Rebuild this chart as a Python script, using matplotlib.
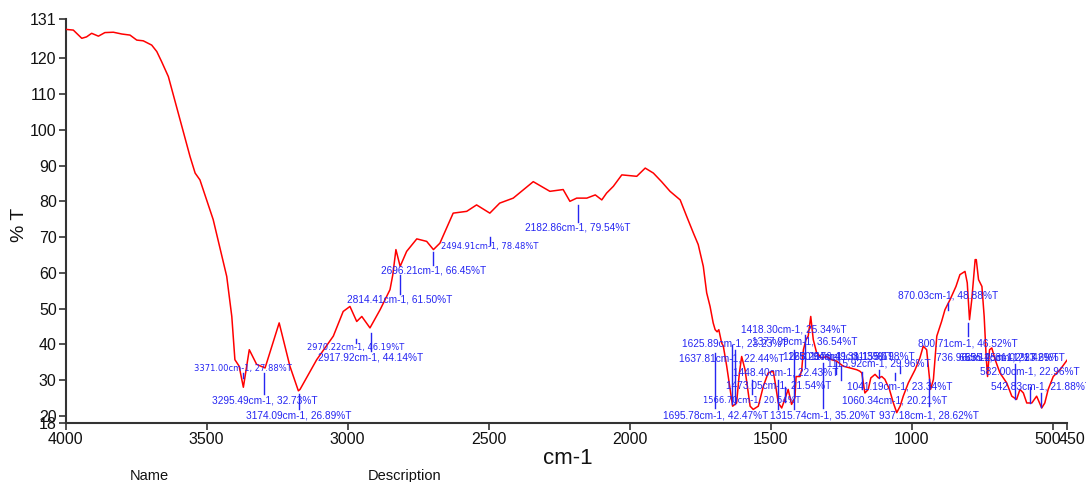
import matplotlib
matplotlib.use("Agg")
import matplotlib.pyplot as plt
from matplotlib.transforms import ScaledTranslation
from matplotlib import font_manager

# ---------------- data ----------------
wavenumber = [4000, 3973, 3943, 3926, 3908, 3884, 3861, 3831, 3801, 3772, 3748, 3725, 3695, 3677,
              3660, 3636, 3595, 3559, 3541, 3524, 3477, 3429, 3411, 3400, 3385, 3370, 3349, 3323,
              3293, 3243, 3205, 3175, 3169, 3110, 3051, 3016, 2992, 2968, 2950, 2921, 2885, 2850,
              2840, 2829, 2814, 2791, 2755, 2720, 2696, 2673, 2626, 2578, 2543, 2496, 2461, 2413,
              2342, 2283, 2236, 2212, 2188, 2152, 2122, 2099, 2082, 2058, 2028, 1975, 1945, 1916,
              1887, 1857, 1821, 1798, 1774, 1757, 1739, 1727, 1715, 1704, 1697, 1690, 1684, 1674,
              1668, 1656, 1644, 1635, 1621, 1611, 1603, 1591, 1583, 1573, 1562, 1544, 1526, 1509,
              1491, 1485, 1473, 1461, 1450, 1438, 1426, 1414, 1410, 1396, 1390, 1384, 1375, 1367,
              1358, 1349, 1337, 1319, 1301, 1284, 1266, 1243, 1219, 1195, 1184, 1177, 1166, 1154,
              1145, 1130, 1118, 1106, 1095, 1079, 1065, 1053, 1041, 1030, 1012, 988, 971, 959,
              947, 939, 933, 923, 911, 894, 882, 864, 843, 829, 811, 803, 795, 787, 775, 771,
              763, 751, 743, 736, 731, 724, 716, 704, 687, 663, 645, 628, 616, 604, 592, 574,
              557, 539, 528, 516, 498, 474, 448]
transmittance = [128.1, 127.9, 125.6, 126.0, 127.0, 126.2, 127.2, 127.3, 126.8, 126.5, 125.1, 124.9,
                 123.7, 121.9, 119.1, 114.9, 103.0, 92.5, 87.9, 86.0, 74.9, 59.0, 47.8, 35.7, 33.9,
                 28.0, 38.5, 34.4, 33.4, 46.0, 33.9, 27.0, 27.4, 35.7, 42.3, 49.2, 50.6, 46.4, 47.8,
                 44.6, 49.7, 55.3, 59.5, 66.5, 61.8, 66.0, 69.5, 68.8, 66.5, 68.3, 76.7, 77.2, 79.0,
                 76.7, 79.5, 80.9, 85.5, 82.8, 83.3, 80.0, 80.9, 80.9, 81.8, 80.4, 82.3, 84.2, 87.4,
                 87.0, 89.3, 87.9, 85.5, 82.8, 80.4, 75.8, 71.1, 67.9, 61.8, 54.4, 50.6, 46.0, 44.1,
                 43.5, 44.1, 40.4, 39.5, 33.9, 27.4, 22.7, 23.6, 32.0, 36.6, 32.9, 28.3, 22.7, 21.8,
                 22.7, 28.3, 32.0, 32.5, 29.7, 23.6, 22.2, 24.6, 27.4, 23.2, 25.1, 31.0, 31.0, 32.9,
                 38.5, 41.3, 42.3, 47.8, 41.3, 37.6, 36.2, 36.6, 35.7, 35.3, 33.9, 33.4, 32.9, 32.5,
                 32.0, 26.4, 27.4, 30.6, 31.6, 30.6, 31.0, 30.2, 27.4, 23.6, 20.9, 22.7, 25.5, 29.2,
                 32.9, 36.2, 39.5, 38.5, 32.0, 27.4, 30.2, 42.3, 46.4, 49.7, 52.5, 56.2, 59.5, 60.4,
                 57.2, 46.9, 52.5, 63.7, 63.7, 58.1, 56.2, 47.8, 36.6, 31.0, 38.5, 39.0, 35.7, 32.0,
                 29.2, 25.5, 24.6, 27.4, 26.4, 23.6, 23.6, 25.5, 22.2, 23.6, 27.4, 31.0, 32.9, 35.7]

# peak labels (wavenumber, %T as printed)
peak_wn = [3371.00, 3295.49, 3174.09, 2970.22, 2917.92, 2814.41, 2696.21, 2494.91, 2182.86,
           1695.78, 1637.81, 1625.89, 1566.70, 1473.05, 1448.40, 1418.30, 1377.99, 1315.74,
           1268.26, 1250.94, 1176.49, 1115.92, 1060.34, 1041.19, 937.18, 870.03, 800.71,
           736.96, 655.14, 635.25, 582.00, 542.83]
peak_T = [27.88, 32.73, 26.89, 46.19, 44.14, 61.50, 66.45, 78.48, 79.54,
          42.47, 22.44, 23.23, 20.64, 21.54, 22.43, 25.34, 36.54, 35.20,
          31.15, 31.35, 31.98, 29.96, 20.21, 23.34, 28.62, 48.88, 46.52,
          31.02, 21.42, 23.69, 22.96, 21.88]
# layout of the labels: text height (in %T units), marker line top / bottom, small font flag
label_y = [33.2, 24.3, 20.1, 39.1, 36.3, 52.5, 60.6, 67.3, 72.6,
           20.1, 36.0, 40.2, 24.3, 28.5, 32.1, 44.1, 40.8, 20.1,
           36.6, 36.6, 36.6, 34.6, 24.3, 28.2, 20.1, 53.6, 40.2,
           36.3, 36.3, 36.3, 32.4, 28.2]
line_top = [32.1, 32.1, 26.0, 41.6, 43.3, 59.5, 65.9, 70.1, 79.0,
            37.7, 39.9, 38.5, 30.0, 30.0, 28.0, 38.5, 42.7, 34.9,
            35.2, 34.0, 32.4, 32.7, 32.0, 34.0, 30.2, 51.7, 46.1,
            None, None, 34.4, 28.2, 26.5]
line_bot = [30.7, 26.0, 21.8, 40.5, 38.0, 54.2, 62.3, 67.9, 74.3,
            22.3, 23.2, 23.2, 26.0, 22.0, 24.0, 21.8, 33.8, 22.3,
            31.6, 30.0, 27.4, 30.7, 30.0, 32.0, 22.7, 49.7, 42.2,
            None, None, 24.6, 23.7, 22.6]
small = [1, 0, 0, 1, 0, 0, 0, 1, 0,
         0, 0, 0, 1, 0, 0, 0, 0, 0,
         0, 0, 0, 0, 0, 0, 0, 0, 0,
         0, 0, 0, 0, 0]

x_ticks = [4000, 3500, 3000, 2500, 2000, 1500, 1000, 500, 450]
y_ticks = [18, 20, 30, 40, 50, 60, 70, 80, 90, 100, 110, 120, 131]

# ---------------- style ----------------
names = {f.name for f in font_manager.fontManager.ttflist}
narrow = "Liberation Sans Narrow" if "Liberation Sans Narrow" in names else "Liberation Sans"
plt.rcParams['font.family'] = [narrow, 'DejaVu Sans']

W, H = 1086, 482
fig = plt.figure(figsize=(W / 100, H / 100), dpi=100)
ax = fig.add_axes([65.7 / W, 1 - 423 / H, (1066.8 - 65.7) / W, (423 - 19) / H])

ax.plot(wavenumber, transmittance, color='#ff0000', lw=1.1, zorder=3)

ax.set_xlim(4000, 450)
ax.set_ylim(18, 131)
ax.set_xticks(x_ticks)
ax.set_xticklabels([str(t) for t in x_ticks])
ax.set_yticks(y_ticks)
ax.set_yticklabels([str(t) for t in y_ticks])

for s in ['top', 'right']:
    ax.spines[s].set_visible(False)
for s in ['left', 'bottom']:
    ax.spines[s].set_color('#333333')
    ax.spines[s].set_linewidth(1.5)
ax.tick_params(axis='both', direction='out', length=5, width=1.2, color='#333333',
               labelsize=11.5, pad=1.5, labelcolor='#111111')

# separate crowded 500/450 labels
lbls = ax.get_xticklabels()
lbls[-2].set_transform(lbls[-2].get_transform() + ScaledTranslation(-5 / 100, 0, fig.dpi_scale_trans))
lbls[-1].set_transform(lbls[-1].get_transform() + ScaledTranslation(5 / 100, 0, fig.dpi_scale_trans))

blue = '#2626f2'
for wn, t, ly, lt, lb, sm in zip(peak_wn, peak_T, label_y, line_top, line_bot, small):
    txt = f"{wn:.2f}cm-1, {t:.2f}%T"
    if sm:
        ax.text(wn, ly, txt, ha='center', va='center', color=blue, fontsize=6.0,
                family='DejaVu Sans', zorder=4, clip_on=False)
    else:
        ax.text(wn, ly, txt, ha='center', va='center', color=blue, fontsize=7.3,
                zorder=4, clip_on=False)
    if lt is not None:
        ax.plot([wn, wn], [lb, lt], color=blue, lw=1.0, zorder=4)

fig.text(20 / W, 1 - 225 / H, '% T', rotation=90, ha='center', va='center', fontsize=14, color='#111111')
fig.text(568 / W, 1 - 459 / H, 'cm-1', ha='center', va='center', fontsize=16, color='#111111')
fig.text(149 / W, 1 - 476 / H, 'Name', ha='center', va='center', fontsize=10.5, color='#111111')
fig.text(405 / W, 1 - 476 / H, 'Description', ha='center', va='center', fontsize=10.5, color='#111111')

fig.savefig('out.png', dpi=100)
